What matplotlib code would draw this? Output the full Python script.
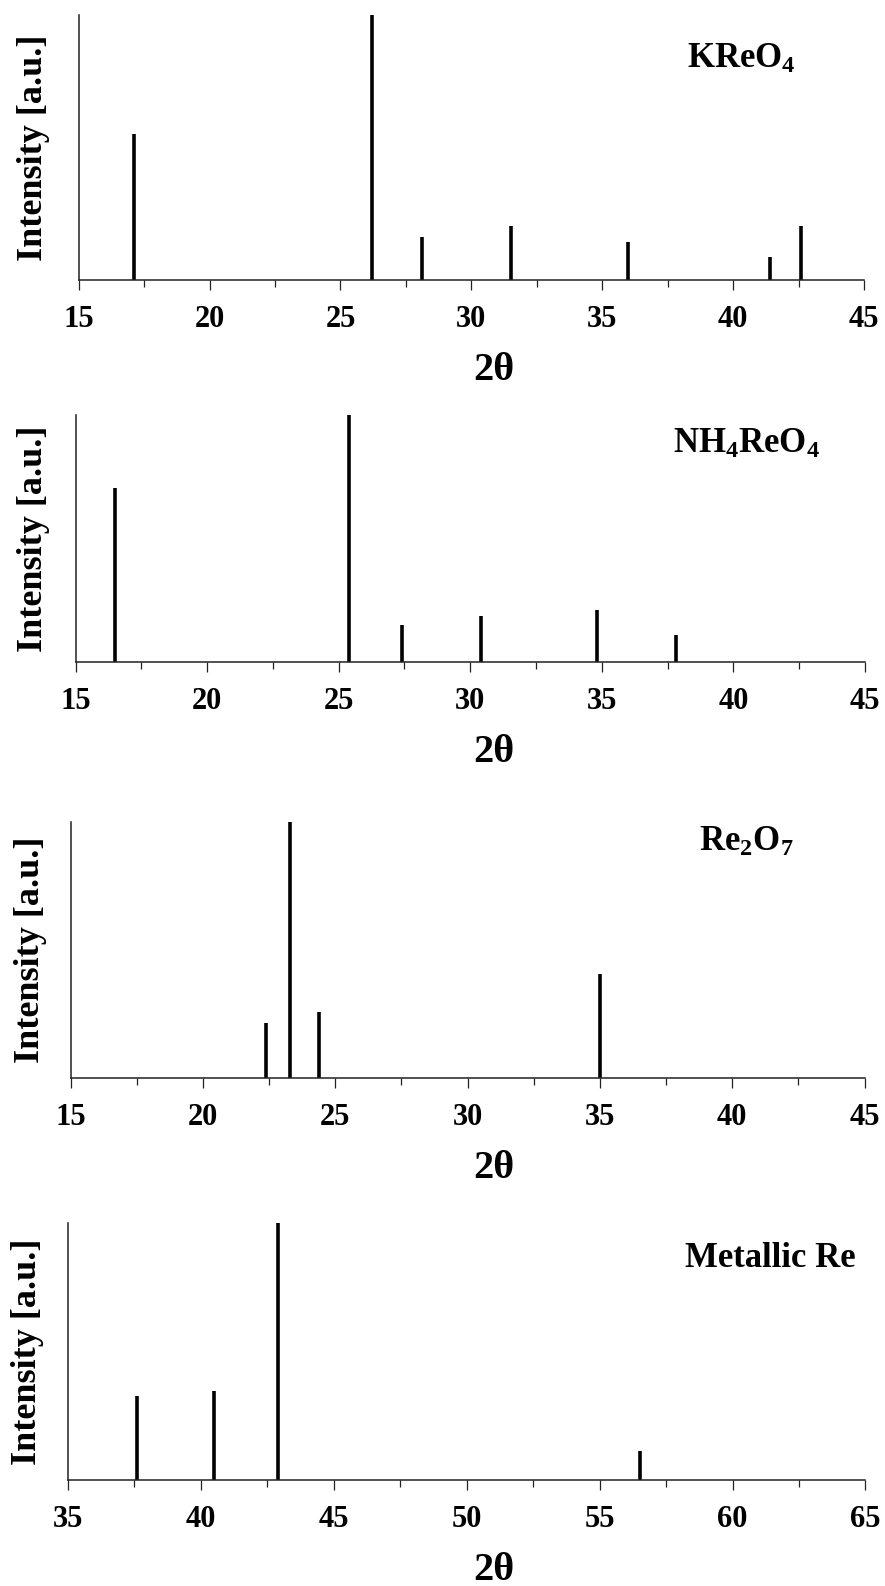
#!/bin/env python3

import matplotlib
matplotlib.use("Agg")
import matplotlib.pyplot as plt
from   matplotlib.ticker import MultipleLocator

# reference lines, 2-theta position and relative intensity (strongest = 100)
kreo4_pos  = [17.1, 26.2, 28.1, 31.5, 36.0, 41.4, 42.6]
kreo4_int  = [55.2, 100.0, 16.4, 20.4, 14.2, 8.6, 20.4]

nh4reo4_pos = [16.5, 25.4, 27.4, 30.4, 34.8, 37.8]
nh4reo4_int = [70.6, 100.0, 14.8, 18.7, 20.9, 10.9]

re2o7_pos  = [22.4, 23.3, 24.4, 35.0]
re2o7_int  = [21.5, 100.0, 25.8, 40.6]

re_pos     = [37.6, 40.5, 42.9, 56.5]
re_int     = [32.5, 34.8, 100.0, 11.4]

names      = [r"$\mathbf{KReO_4}$", r"$\mathbf{NH_4ReO_4}$", r"$\mathbf{Re_2O_7}$", "Metallic Re"]
x_ranges   = [(15, 45), (15, 45), (15, 45), (35, 65)]
y_label    = "Intensity [a.u.]"
x_label    = "2\u03b8"

W, H = 885, 1586

# panel boxes in pixels: left, right, top, bottom
boxes      = [(78.7, 864.0, 15.0, 280.0),
              (75.5, 865.0, 415.0, 662.0),
              (70.5, 864.5, 822.0, 1078.0),
              (68.0, 865.5, 1223.0, 1480.0)]
name_xy    = [(687, 68), (673, 453), (699, 851), (685, 1267)]
ylab_x     = [34, 33.5, 31, 28]


def fx(px: float) -> float:
    return px / W

def fy(py: float) -> float:
    return 1.0 - py / H

def draw_panel(fig, i: int, pos: list, inten: list) -> None:
    """stick pattern for one compound"""

    l, r, t, b = boxes[i]
    axe = fig.add_axes([fx(l), fy(b), fx(r) - fx(l), fy(t) - fy(b)])
    axe.vlines(pos, 0, inten, colors="black", linewidth=2.6, capstyle="butt")

    axe.set_xlim(*x_ranges[i])
    axe.set_ylim(0, 100)
    axe.xaxis.set_major_locator(MultipleLocator(5))
    axe.xaxis.set_minor_locator(MultipleLocator(2.5))
    axe.set_yticks([])

    for side in ("top", "right"):
        axe.spines[side].set_visible(False)
    for side in ("left", "bottom"):
        axe.spines[side].set_linewidth(1.1)
        axe.spines[side].set_color("#222222")

    axe.tick_params(axis="x", which="major", direction="out", length=7.2, width=0.9,
                    color="#222222", labelsize=22, pad=11)
    axe.tick_params(axis="x", which="minor", direction="out", length=5.0, width=0.9,
                    color="#222222")
    for lbl in axe.get_xticklabels():
        lbl.set_fontweight("bold")

    nx, ny = name_xy[i]
    fig.text(fx(nx), fy(ny), names[i], fontsize=25, fontweight="bold",
             ha="left", va="baseline")
    fig.text(fx(494), fy(b + 100), x_label, fontsize=29, fontweight="bold",
             ha="center", va="baseline")
    fig.text(fx(ylab_x[i]), fy((t + b) / 2), y_label, fontsize=26, fontweight="bold",
             rotation=90, ha="center", va="center")


def main() -> int:
    plt.rcParams["font.family"]       = ["Liberation Serif", "DejaVu Serif"]
    plt.rcParams["font.weight"]       = "bold"
    plt.rcParams["mathtext.fontset"]  = "custom"
    plt.rcParams["mathtext.rm"]       = "Liberation Serif"
    plt.rcParams["mathtext.bf"]       = "Liberation Serif:bold"

    fig = plt.figure(figsize=(W / 100, H / 100), dpi=100)

    draw_panel(fig, 0, kreo4_pos, kreo4_int)
    draw_panel(fig, 1, nh4reo4_pos, nh4reo4_int)
    draw_panel(fig, 2, re2o7_pos, re2o7_int)
    draw_panel(fig, 3, re_pos, re_int)

    fig.savefig("out.png", dpi=100)

    return 0

if __name__ == "__main__":
    main()
